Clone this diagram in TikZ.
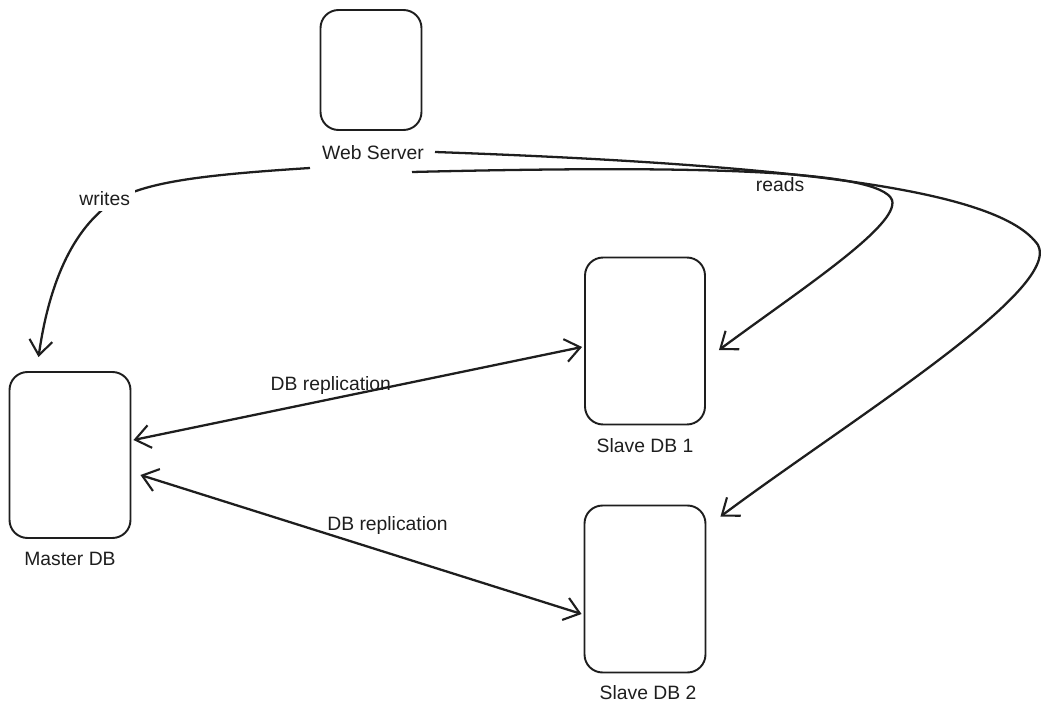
\documentclass[tikz,border=0pt]{standalone}
\usepackage{fontspec}
\setmainfont{Liberation Sans}
\usepackage{xcolor}
\usepackage{tikz}
\usetikzlibrary{arrows.meta, positioning, calc}
\definecolor{ink}{HTML}{1E1E1E}

\begin{document}
\begin{tikzpicture}[x=0.02cm, y=-0.02cm,
    box/.style={draw=ink, rectangle, rounded corners=0.36cm, line width=1.1pt, inner sep=0pt},
    lbl/.style={font=\fontsize{11}{13}\selectfont, text=ink, inner sep=1pt},
    arrow/.style={-{Straight Barb[length=3mm, width=4.6mm, line width=1.2pt]}, line width=1.3pt, draw=ink},
    biarrow/.style={{Straight Barb[length=3mm, width=4.6mm, line width=1.2pt]}-{Straight Barb[length=3mm, width=4.6mm, line width=1.2pt]}, line width=1.3pt, draw=ink}
]
\useasboundingbox (0,0) rectangle (1051,719);

\node[box, minimum width=2.02cm, minimum height=2.4cm] (web) at (371,70) {};
\node[lbl] (weblbl) at (373,153) {Web Server};
\node[box, minimum width=2.42cm, minimum height=3.32cm] (master) at (70,455) {};
\node[lbl] (masterlbl) at (70,559) {Master DB};
\node[box, minimum width=2.4cm, minimum height=3.34cm] (slave1) at (645,341) {};
\node[lbl] (slave1lbl) at (645,446) {Slave DB 1};
\node[box, minimum width=2.42cm, minimum height=3.34cm] (slave2) at (645,589) {};
\node[lbl] (slave2lbl) at (648,693) {Slave DB 2};

\coordinate (wstart) at (310,168);
\coordinate (r1start) at (412,172);
\coordinate (r2start) at (435,152);

\draw[arrow] (wstart) .. controls (200,175) and (150,182) .. (117,199)
    node[lbl, fill=white, xshift=-7pt, inner sep=3pt] (writes) {writes}
    .. controls (70,228) and (48,290) .. ($(master.north west)+(30,-14)$);

\draw[arrow] (r1start) .. controls (700,165) and (880,170) .. (892,200)
    .. controls (900,225) and (800,290) .. ($(slave1.east)+(13,9)$);
\draw[arrow] (r2start) .. controls (800,165) and (1000,190) .. (1038,245)
    .. controls (1062,290) and (850,420) .. ($(slave2.north east)+(14,12)$);
\node[lbl] (reads) at (780,185) {reads};

\draw[biarrow] ($(master.east)+(2,-15)$) -- node[lbl, pos=0.44, above=1pt] {DB replication} ($(slave1.west)+(-2,6)$);
\draw[biarrow] ($(master.east)+(9,20)$) -- node[lbl, pos=0.56, above=0.3cm] {DB replication} ($(slave2.west)+(-2,25)$);

\end{tikzpicture}
\end{document}
